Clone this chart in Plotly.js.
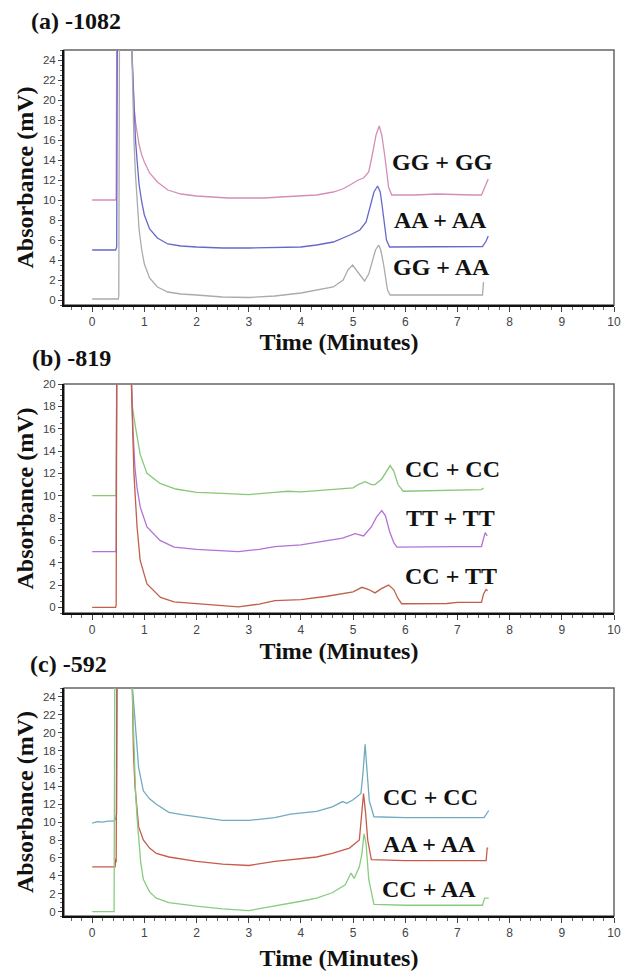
<!DOCTYPE html>
<html>
<head>
<meta charset="utf-8">
<script src="https://cdn.plot.ly/plotly-3.0.1.min.js"></script>
<style>html,body{margin:0;padding:0;background:#fff;}#chart{width:624px;height:971px;}</style>
</head>
<body>
<div id="chart"></div>
<script>
// ---------- Panel (a) -1082 ----------
const tA_GG = [0,0.1,0.2,0.3,0.4,0.45,0.46,0.48,0.55,0.7,0.76,0.78,0.8,0.83,0.86,0.9,0.95,1.0,1.1,1.25,1.45,1.7,2.0,2.3,2.6,3.0,3.3,3.6,4.0,4.3,4.62,4.8,4.94,5.1,5.2,5.3,5.36,5.44,5.5,5.55,5.61,5.68,5.74,5.85,6.2,6.6,7.0,7.3,7.46,7.52,7.59];
const yA_GG = [10,10,10,10,10,10,10.3,40,90,80,25,21.5,19.5,17.8,16.6,15.5,14.5,13.8,12.7,11.8,11.0,10.6,10.4,10.3,10.2,10.2,10.2,10.3,10.4,10.5,10.8,11.1,11.5,12.0,12.2,12.8,14.3,16.5,17.4,16.5,14.3,11.3,10.5,10.5,10.5,10.6,10.5,10.5,10.5,11.2,12.1];
const tA_AA = [0,0.1,0.2,0.3,0.4,0.45,0.47,0.49,0.55,0.7,0.76,0.78,0.8,0.83,0.86,0.9,0.95,1.0,1.1,1.25,1.45,1.7,2.0,2.5,3.0,3.5,4.0,4.3,4.62,4.94,5.13,5.25,5.32,5.4,5.47,5.52,5.56,5.64,5.7,6.0,6.5,7.0,7.48,7.55,7.59];
const yA_AA = [5,5,5,5,5,5,5.3,40,90,80,25,22,19,16,14,11.5,9.8,8.5,7.1,6.2,5.6,5.4,5.3,5.2,5.2,5.25,5.3,5.5,5.8,6.5,7.0,7.8,9.3,10.8,11.4,10.8,9.3,6.0,5.3,5.3,5.3,5.35,5.35,5.9,6.4];
const tA_GA = [0,0.1,0.2,0.3,0.4,0.5,0.51,0.53,0.6,0.7,0.76,0.78,0.8,0.83,0.86,0.9,0.95,1.0,1.1,1.25,1.45,1.7,2.0,2.5,3.0,3.5,4.0,4.3,4.62,4.81,4.9,4.99,5.1,5.22,5.3,5.36,5.43,5.49,5.53,5.58,5.66,5.71,6.0,7.0,7.48,7.5];
const yA_GA = [0.1,0.1,0.1,0.1,0.1,0.1,0.4,40,90,80,25,20,16,12.5,10,7.0,5.0,3.6,2.2,1.3,0.8,0.6,0.5,0.3,0.25,0.4,0.7,1.0,1.3,2.0,3.0,3.5,2.7,1.9,2.6,3.7,5.0,5.5,5.0,3.7,1.0,0.5,0.5,0.5,0.5,1.8];

// ---------- Panel (b) -819 ----------
const tB_CC = [0,0.1,0.2,0.3,0.4,0.45,0.46,0.48,0.55,0.7,0.74,0.77,0.82,0.92,1.05,1.3,1.6,2.0,2.5,3.0,3.5,3.75,4.0,4.5,5.0,5.1,5.23,5.35,5.42,5.55,5.65,5.71,5.78,5.86,5.96,6.5,7.0,7.46,7.5];
const yB_CC = [10,10,10,10,10,10,10.2,40,90,80,22,18,16.4,13.7,12.0,11.1,10.6,10.3,10.2,10.1,10.3,10.4,10.35,10.5,10.7,11.0,11.25,11.0,11.0,11.5,12.3,12.7,12.2,11.0,10.4,10.45,10.5,10.55,10.7];
const tB_TT = [0,0.1,0.2,0.3,0.4,0.45,0.46,0.48,0.55,0.7,0.74,0.78,0.82,0.86,0.92,1.05,1.3,1.57,2.0,2.5,2.8,3.2,3.5,4.0,4.5,4.8,5.04,5.2,5.35,5.45,5.55,5.62,5.7,5.78,5.84,6.5,7.0,7.46,7.5,7.53,7.57];
const yB_TT = [5,5,5,5,5,5,5.2,40,90,80,22,16,12.5,10.7,9.0,7.2,6.0,5.4,5.2,5.1,5.0,5.2,5.45,5.6,6.0,6.2,6.6,6.4,7.2,8.1,8.66,8.2,6.8,5.8,5.4,5.45,5.45,5.45,6.3,6.7,6.4];
const tB_CT = [0,0.1,0.2,0.3,0.4,0.45,0.46,0.48,0.55,0.7,0.74,0.77,0.8,0.86,0.92,1.05,1.31,1.57,2.0,2.5,2.8,3.2,3.5,4.0,4.5,5.0,5.17,5.3,5.42,5.55,5.68,5.78,5.86,5.93,6.5,6.8,7.0,7.46,7.5,7.55,7.58];
const yB_CT = [0,0,0,0,0,0,0.2,40,90,80,22,16,12,7.2,4.2,2.1,0.9,0.5,0.35,0.2,0.05,0.3,0.6,0.7,1.0,1.4,1.8,1.6,1.3,1.7,2.0,1.6,0.8,0.33,0.35,0.35,0.45,0.45,1.2,1.6,1.5];

// ---------- Panel (c) -592 ----------
const tC_CC = [0,0.1,0.2,0.3,0.4,0.45,0.47,0.49,0.55,0.7,0.74,0.77,0.8,0.83,0.89,0.98,1.1,1.23,1.47,1.75,2.0,2.5,3.0,3.5,3.8,4.0,4.3,4.6,4.8,4.88,5.0,5.15,5.19,5.23,5.27,5.31,5.4,6.0,7.0,7.51,7.6];
const yC_CC = [9.9,10.05,10.0,10.1,10.1,10.3,11,40,90,80,30,25,23,21,16.1,13.5,12.6,12.0,11.1,10.8,10.6,10.2,10.2,10.5,10.9,11.0,11.2,11.7,12.3,12.1,12.5,13.2,15.5,18.7,16,12.4,10.6,10.5,10.5,10.5,11.3];
const tC_AA = [0,0.1,0.2,0.3,0.4,0.44,0.45,0.46,0.48,0.55,0.7,0.74,0.77,0.79,0.82,0.89,0.98,1.1,1.23,1.47,2.0,2.5,3.0,3.5,4.0,4.3,4.6,4.93,5.12,5.17,5.2,5.24,5.28,5.35,6.0,7.0,7.55,7.57,7.59];
const yC_AA = [5,5,5,5,5,5,5.9,5.5,40,90,80,30,25,18,14,9.5,8.0,7.1,6.5,6.1,5.6,5.3,5.15,5.6,5.9,6.1,6.5,7.1,8.0,11,13.2,11,8.0,5.8,5.7,5.7,5.7,7.1,7.1];
const tC_CA = [0,0.1,0.2,0.3,0.4,0.42,0.44,0.5,0.7,0.74,0.77,0.8,0.83,0.86,0.89,0.93,0.98,1.1,1.23,1.47,2.0,2.5,3.0,3.5,4.0,4.3,4.6,4.85,4.96,5.02,5.12,5.17,5.21,5.25,5.3,5.4,6.0,7.0,7.48,7.52,7.6];
const yC_CA = [0,0,0,0,0,0,40,90,80,30,25,18,13.5,10.5,8.0,5.5,3.6,2.2,1.5,1.0,0.6,0.3,0.1,0.6,1.15,1.5,2.1,3.0,4.3,3.7,5.0,6.5,8.7,7.5,3.6,0.8,0.7,0.7,0.7,1.5,1.5];

const xTickVals = [0,1,2,3,4,5,6,7,8,9,10];
const labelsA = ["GG + GG","AA + AA","GG + AA"];
const labelsB = ["CC + CC","TT + TT","CC + TT"];
const labelsC = ["CC + CC","AA + AA","CC + AA"];
const panelTitles = ["(a) -1082","(b) -819","(c) -592"];

const W = 624, H = 971;
const ML = 64, MR = 10, MT = 50, MB = 55;
const PW = W - ML - MR, PH = H - MT - MB;
const px2x = p => (p - ML) / PW;
const py2y = p => (H - MB - p) / PH;

function tr(x, y, color, xa, ya) {
  return {x: x, y: y, type: 'scatter', mode: 'lines', xaxis: xa, yaxis: ya,
          line: {color: color, width: 1.3}, hoverinfo: 'skip', showlegend: false};
}
const data = [
  tr(tA_GG, yA_GG, '#d38fb7', 'x', 'y'),
  tr(tA_AA, yA_AA, '#6767cc', 'x', 'y'),
  tr(tA_GA, yA_GA, '#ababab', 'x', 'y'),
  tr(tB_CC, yB_CC, '#88c878', 'x2', 'y2'),
  tr(tB_TT, yB_TT, '#b272d6', 'x2', 'y2'),
  tr(tB_CT, yB_CT, '#c0604a', 'x2', 'y2'),
  tr(tC_CC, yC_CC, '#70abbf', 'x3', 'y3'),
  tr(tC_AA, yC_AA, '#c85a4a', 'x3', 'y3'),
  tr(tC_CA, yC_CA, '#88cc80', 'x3', 'y3')
];

const tickFont = {family: 'Liberation Sans, Arial, sans-serif', size: 12, color: '#444'};
const titleFont = {family: 'Liberation Serif, Times New Roman, serif', size: 24, color: '#111', weight: 'bold'};

function xax(anchor, so) {
  return {
    domain: [0, 1], anchor: anchor, range: [-0.54, 10], tickvals: xTickVals,
    showgrid: false, zeroline: false, showline: true, linecolor: '#111', linewidth: 2,
    ticks: 'outside', ticklen: 5, tickwidth: 1, tickcolor: '#444', tickfont: tickFont,
    minor: {ticks: 'outside', ticklen: 3, tickwidth: 1, tickcolor: '#666', dtick: 0.2, showgrid: false},
    title: {text: 'Time (Minutes)', font: titleFont, standoff: so}
  };
}
function yax(anchor, dom, top) {
  return {
    domain: dom, anchor: anchor, range: [-0.5, top], dtick: 2, tick0: 0,
    showgrid: false, zeroline: false, showline: true, linecolor: '#111', linewidth: 2,
    ticks: 'outside', ticklen: 4, tickwidth: 1, tickcolor: '#444',
    tickfont: {family: 'Liberation Sans, Arial, sans-serif', size: 11.5, color: '#444'},
    minor: {ticks: 'outside', ticklen: 2, tickwidth: 1, tickcolor: '#666', dtick: 0.5, showgrid: false},
    title: {text: 'Absorbance (mV)', font: titleFont, standoff: 3}
  };
}

const domA = [py2y(305), py2y(50)];
const domB = [py2y(613), py2y(384)];
const domC = [py2y(916), py2y(688)];

function box(xr, yr) {
  return {type: 'rect', xref: xr + ' domain', yref: yr + ' domain', x0: 0, x1: 1, y0: 0, y1: 1,
          line: {color: '#666', width: 1.5}, layer: 'below'};
}

const labFont = {family: 'Liberation Serif, Times New Roman, serif', size: 24, color: '#111', weight: 'bold'};
function lab(text, px, py) {
  return {text: text, xref: 'paper', yref: 'paper', x: px2x(px), y: py2y(py),
          xanchor: 'center', yanchor: 'middle', showarrow: false, font: labFont};
}
function ttl(text, px, py) {
  return {text: text, xref: 'paper', yref: 'paper', x: px2x(px), y: py2y(py),
          xanchor: 'left', yanchor: 'middle', showarrow: false, font: labFont};
}
const annotations = [
  lab(labelsA[0], 442, 162), lab(labelsA[1], 440, 220), lab(labelsA[2], 441, 267),
  lab(labelsB[0], 452, 469), lab(labelsB[1], 450, 518), lab(labelsB[2], 451, 576),
  lab(labelsC[0], 430, 797), lab(labelsC[1], 429, 844), lab(labelsC[2], 429, 889),
  ttl(panelTitles[0], 29, 21), ttl(panelTitles[1], 30, 358), ttl(panelTitles[2], 28, 664)
];

const layout = {
  width: W, height: H,
  margin: {l: ML, r: MR, t: MT, b: MB},
  paper_bgcolor: '#fff', plot_bgcolor: '#fff',
  showlegend: false,
  xaxis: xax('y', 4), yaxis: yax('x', domA, 25),
  xaxis2: xax('y2', 6), yaxis2: yax('x2', domB, 20),
  xaxis3: xax('y3', 10), yaxis3: yax('x3', domC, 25),
  shapes: [box('x', 'y'), box('x2', 'y2'), box('x3', 'y3')],
  annotations: annotations
};

Plotly.newPlot('chart', data, layout, {displayModeBar: false, staticPlot: true});
</script>
</body>
</html>
